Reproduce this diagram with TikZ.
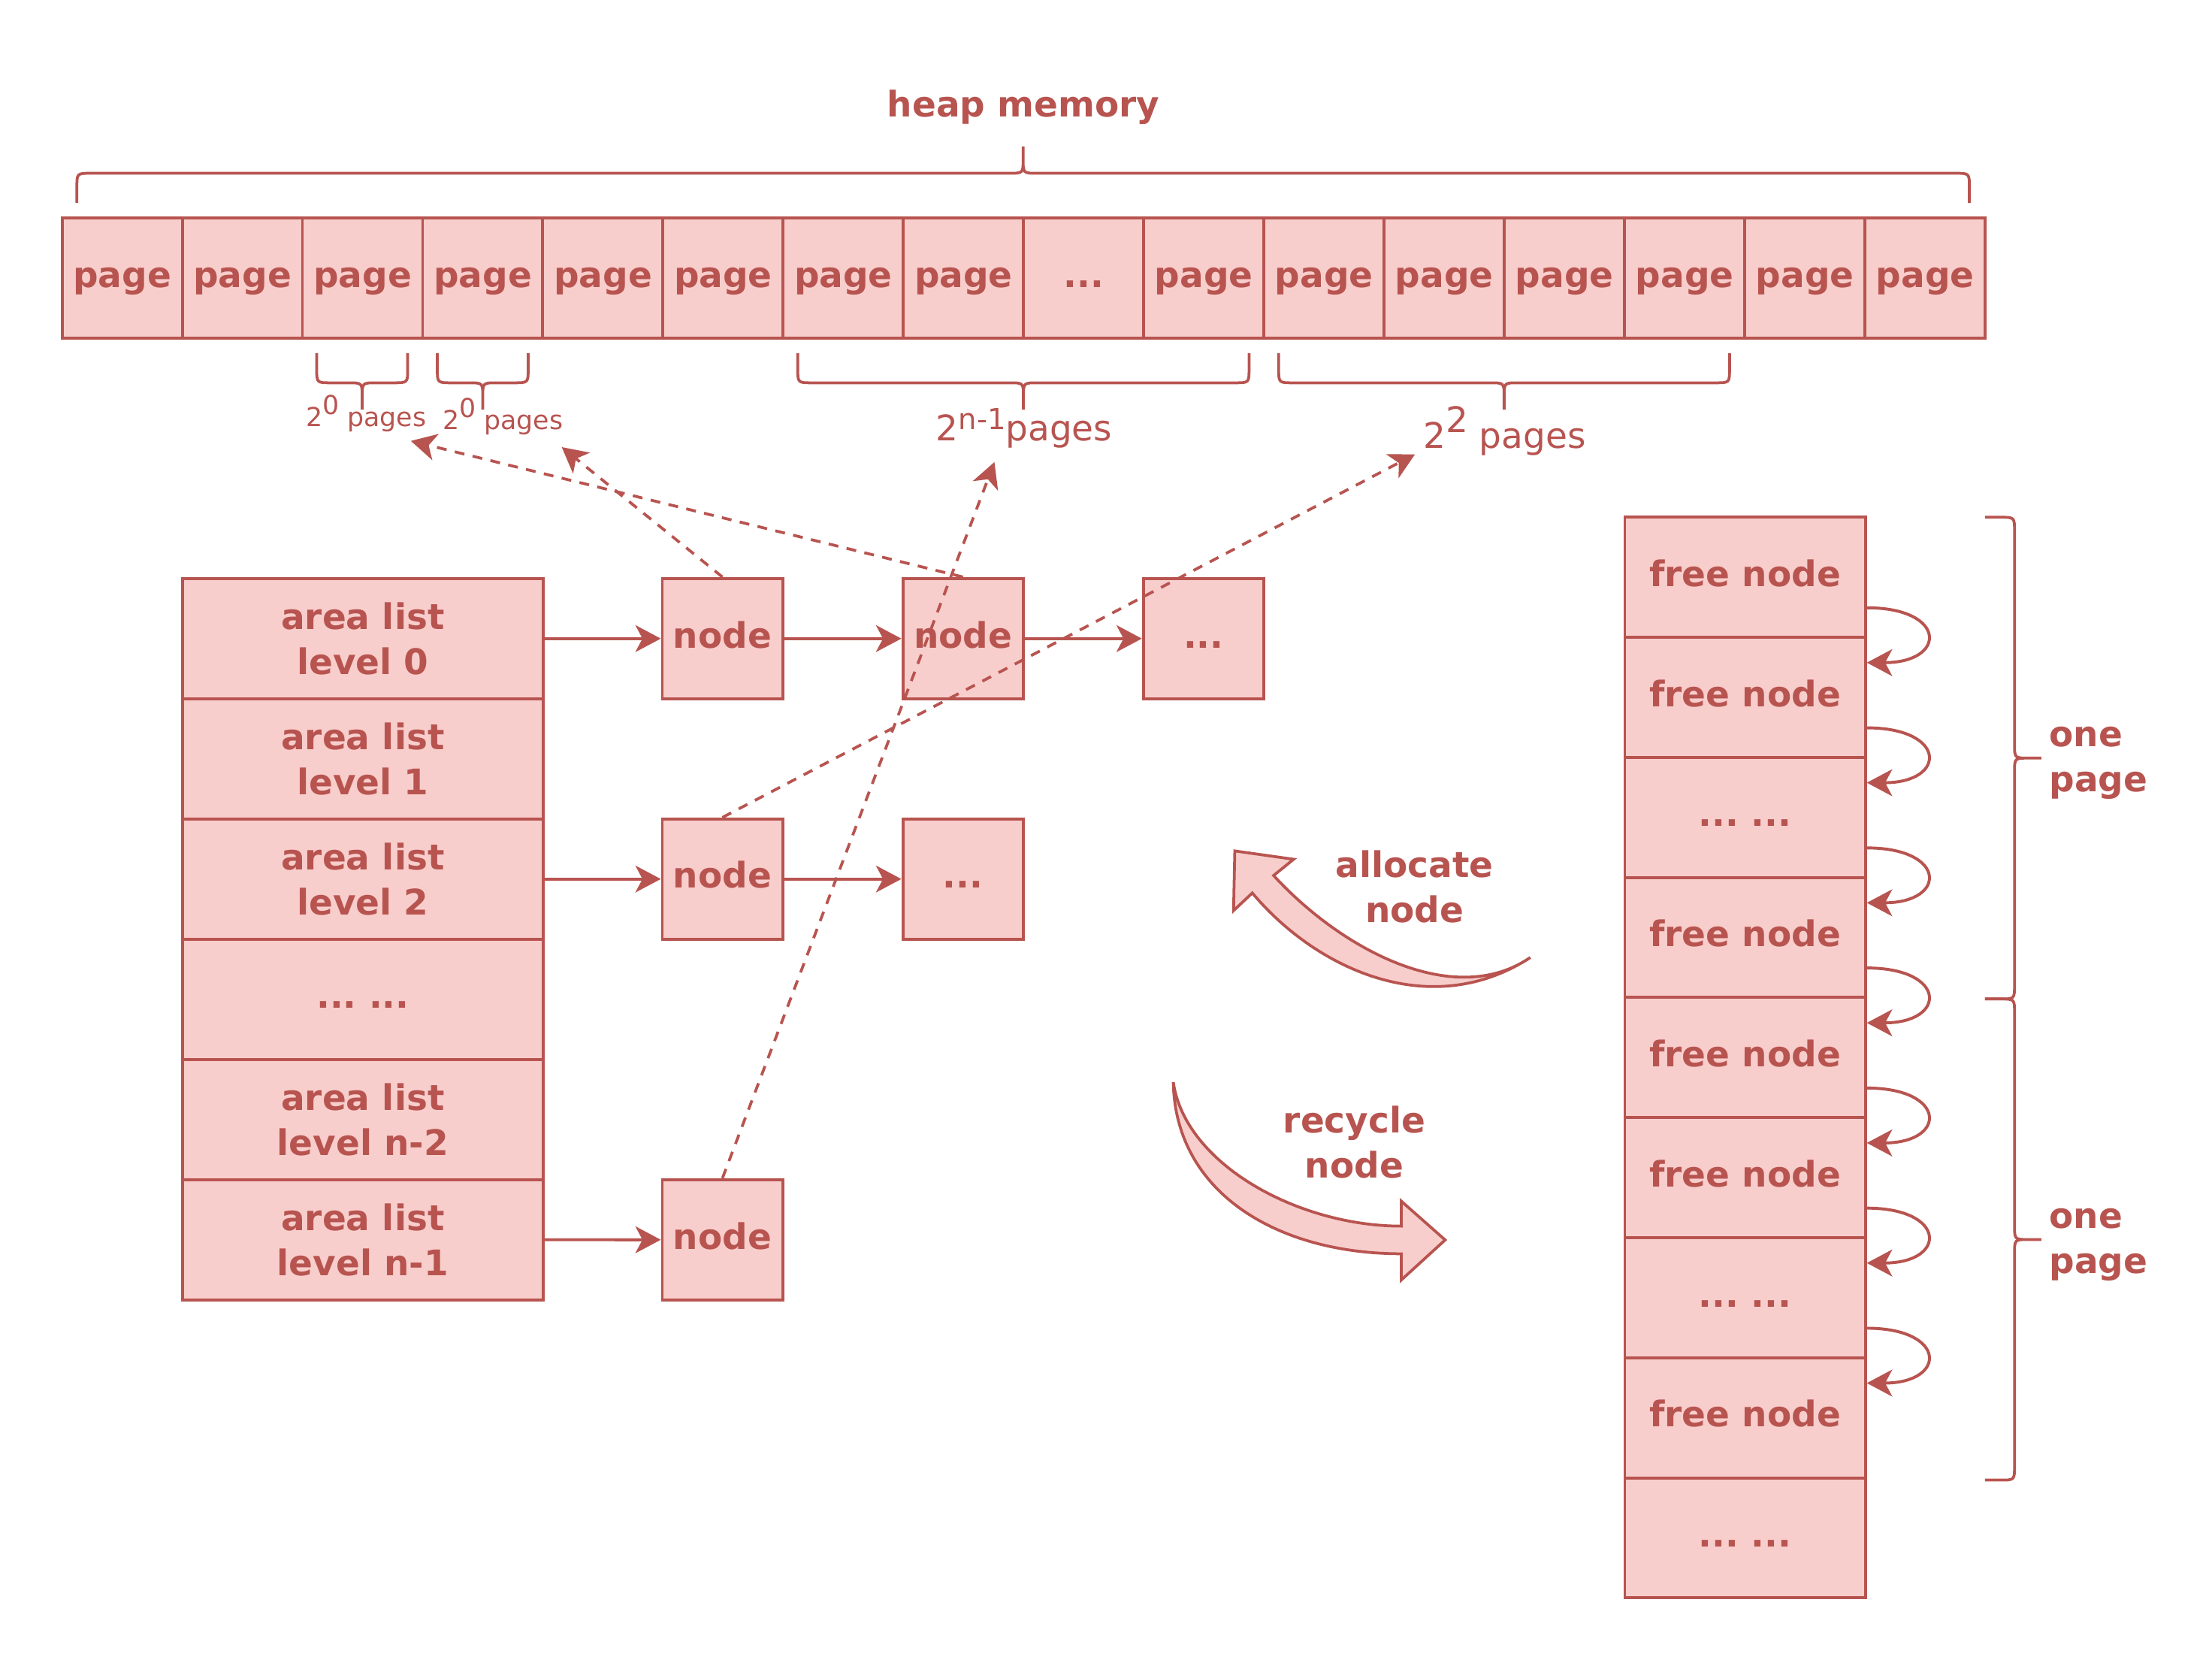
\documentclass[tikz,border=0pt]{standalone}
\usepackage{fontspec}
\setmainfont{DejaVu Sans}
\usetikzlibrary{arrows.meta}

\definecolor{heapred}{HTML}{B85450}
\definecolor{heappink}{HTML}{F8CECC}

\newcommand{\moredots}{...}

% curly bracket between x=#1 and x=#2, ends at y=#3, #4=1 opens down, -1 up
\newcommand{\hbrace}[4]{%
  \draw[bracket] (#1,#3) -- (#1,{#3+11*(#4)})
    .. controls (#1,{#3+21*(#4)}) .. ({#1+10},{#3+21*(#4)})
    -- ({(#1+#2)/2-10},{#3+21*(#4)})
    .. controls ({(#1+#2)/2},{#3+21*(#4)}) .. ({(#1+#2)/2},{#3+31*(#4)})
    -- ({(#1+#2)/2},{#3+40*(#4)})
    ({(#1+#2)/2},{#3+31*(#4)})
    .. controls ({(#1+#2)/2},{#3+21*(#4)}) .. ({(#1+#2)/2+10},{#3+21*(#4)})
    -- ({#2-10},{#3+21*(#4)})
    .. controls (#2,{#3+21*(#4)}) .. (#2,{#3+11*(#4)}) -- (#2,#3);}

% curly bracket between y=#1 and y=#2, ends at x=#3, opening to the right
\newcommand{\vbrace}[3]{%
  \draw[bracket] (#3,#1) -- ({#3+11},#1)
    .. controls ({#3+21},#1) .. ({#3+21},{#1+10})
    -- ({#3+21},{(#1+#2)/2-10})
    .. controls ({#3+21},{(#1+#2)/2}) .. ({#3+31},{(#1+#2)/2})
    -- ({#3+40},{(#1+#2)/2})
    ({#3+31},{(#1+#2)/2})
    .. controls ({#3+21},{(#1+#2)/2}) .. ({#3+21},{(#1+#2)/2+10})
    -- ({#3+21},{#2-10})
    .. controls ({#3+21},#2) .. ({#3+11},#2) -- (#3,#2);}

\tikzset{
  boxtext/.style={draw=heapred, fill=heappink, text=heapred, line width=2.1pt, inner sep=0pt,
    font=\fontsize{25}{32}\selectfont\bfseries},
  pagecell/.style={boxtext, minimum width=85.25pt, minimum height=85.2pt, text height=19pt, text depth=6pt},
  listnode/.style={pagecell},
  levelbox/.style={boxtext, minimum width=255.75pt, minimum height=85.2pt, align=center},
  freebox/.style={boxtext, minimum width=170.5pt, minimum height=85.1pt, text height=19pt, text depth=6pt},
  notetext/.style={text=heapred, inner sep=0pt, font=\fontsize{25}{32}\selectfont\bfseries},
  countlabel/.style={text=heapred, inner sep=0pt, anchor=base},
  link/.style={draw=heapred, line width=2.1pt, -{Stealth[length=18pt,width=19pt,inset=5pt]}},
  ptr/.style={link, line width=2pt, dash pattern=on 7pt off 6pt},
  bracket/.style={draw=heapred, line width=2pt},
  bigarrow/.style={draw=heapred, fill=heappink, line width=2pt},
}

\begin{document}
\begin{tikzpicture}[x=1pt,y=-1pt]
\useasboundingbox (0,0) rectangle (1568,1176);

% heap memory
\node[notetext, anchor=base] (heapmem) at (725.5,83) {heap memory};
\hbrace{54.5}{1396}{143.8}{-1}
\foreach \t [count=\i] in {page,page,page,page,page,page,page,page,\moredots,page,page,page,page,page,page,page}
  \node[pagecell] (p\i) at ({44+85.2*(\i-0.5)},197.1) {\t};

\hbrace{224.5}{289}{250.3}{1}
\hbrace{310}{374.4}{250.3}{1}
\hbrace{565.5}{885.4}{250.3}{1}
\hbrace{906.4}{1226}{250.3}{1}
\node[countlabel, font=\fontsize{18.5}{22}\selectfont] (pg0a) at (259.5,302.5) {2\raisebox{0.48em}{0} pages};
\node[countlabel, font=\fontsize{18.5}{22}\selectfont] (pg0b) at (356.5,304.5) {2\raisebox{0.48em}{0} pages};
\node[countlabel, font=\fontsize{25}{30}\selectfont] (pgn) at (726,312.3) {2\raisebox{7.8pt}{\fontsize{20.5}{20.5}\selectfont n-1}pages};
\node[countlabel, font=\fontsize{25}{30}\selectfont] (pgtwo) at (1066.5,317.5) {2\raisebox{0.45em}{2} pages};

% area lists
\foreach \t [count=\i from 0] in {area list\\level 0, area list\\level 1, area list\\level 2, \rule[-6pt]{0pt}{25pt}\moredots\ \moredots, area list\\level n-2, area list\\level n-1}
  \node[levelbox] (L\i) at (257.2,{452.6+85.2*\i}) {\t};

\node[listnode] (n0a) at (512.1,452.6) {node};
\node[listnode] (n0b) at (682.6,452.6) {node};
\node[listnode] (n0c) at (853.1,452.6) {\moredots};
\node[listnode] (n2a) at (512.1,623) {node};
\node[listnode] (n2b) at (682.6,623) {\moredots};
\node[listnode] (n5a) at (512.1,878.7) {node};

\draw[link] (L0) -- (n0a);
\draw[link] (n0a) -- (n0b);
\draw[link] (n0b) -- (n0c);
\draw[link] (L2) -- (n2a);
\draw[link] (n2a) -- (n2b);
\draw[link] (L5) -- (n5a);

\coordinate (t0a) at (291.2,312.5);
\coordinate (t0b) at (398.2,316.9);
\coordinate (tn) at (704.9,327.5);
\coordinate (ttwo) at (1003,322);
\draw[ptr] (n0b.north) -- (t0a);
\draw[ptr] (n0a.north) -- (t0b);
\draw[ptr] (n5a.north) -- (tn);
\draw[ptr] (n2a.north) -- (ttwo);

% free nodes of one area
\foreach \t [count=\i] in {free node, free node, \moredots\ \moredots, free node, free node, free node, \moredots\ \moredots, free node, \moredots\ \moredots}
  \node[freebox] (f\i) at (1237,{366.6+85.1*(\i-0.5)}) {\t};
\foreach \i [count=\j from 2] in {1,...,7}
  \draw[link] ([yshift=22pt]f\i.south east) .. controls +(57,0) and +(57,0) .. ([yshift=-19pt]f\j.north east);

\vbrace{366.6}{708}{1407}
\vbrace{708}{1049}{1407}
\node[notetext, align=left, anchor=west] (onepg1) at (1452.5,541) {one\\page};
\node[notetext, align=left, anchor=west] (onepg2) at (1452.5,882.1) {one\\page};

% allocate / recycle
\filldraw[bigarrow] (1084.8,678.6) .. controls (1015,724) and (934,688) .. (887.7,632.9)
  -- (874.4,645.4) -- (875.3,603.1) -- (917,609) -- (902.8,620.5)
  .. controls (950,672) and (1030,716) .. cycle;
\node[notetext, align=center] (alloc) at (1002.7,628.7) {allocate\\node};

\filldraw[bigarrow] (831.7,767) .. controls (833,845) and (905,888.6) .. (993.3,888.6)
  -- (993.3,907.2) -- (1024.4,878.8) -- (993.3,851.3) -- (993.3,869)
  .. controls (920,869) and (840,825) .. cycle;
\node[notetext, align=center] (recyc) at (960,809.4) {recycle\\node};
\end{tikzpicture}
\end{document}
